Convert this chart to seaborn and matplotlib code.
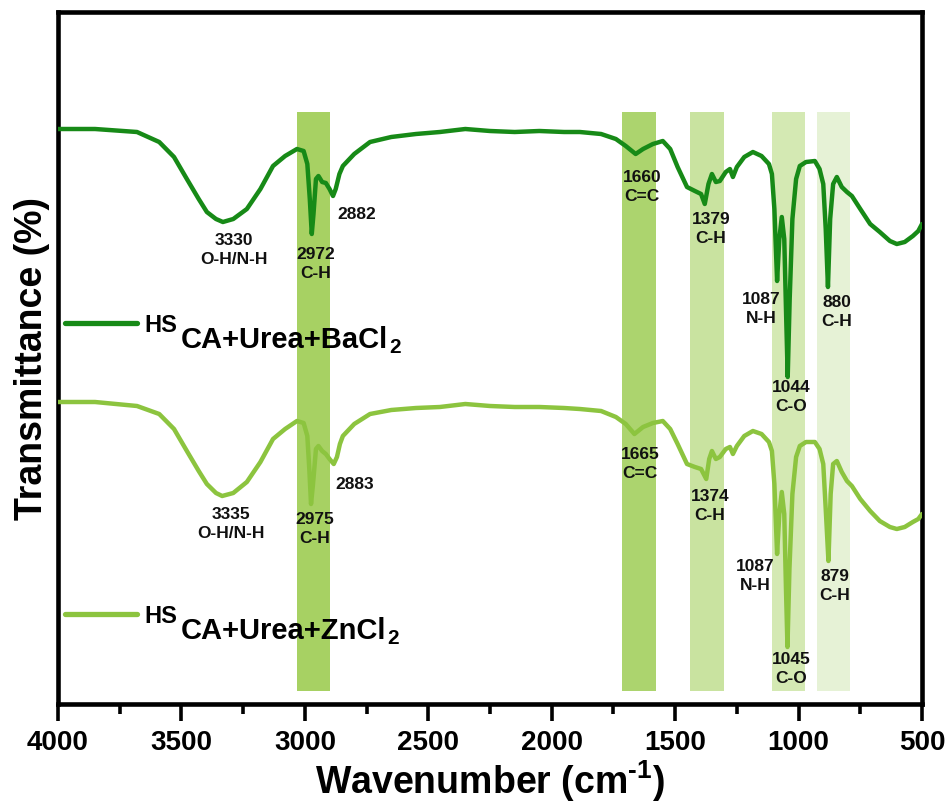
import numpy as np
import pandas as pd
import matplotlib
matplotlib.use("Agg")
import matplotlib.pyplot as plt
import seaborn as sns
from matplotlib.ticker import MultipleLocator

# ---------------- data ----------------
wn_ba = [4000, 3850, 3680, 3590, 3530, 3478, 3430, 3397, 3360, 3332, 3290, 3235, 3180, 3129,
         3080, 3032, 3005, 2990, 2980, 2972, 2965, 2955, 2945, 2930, 2915, 2900, 2886, 2875,
         2860, 2846, 2800, 2736, 2650, 2550, 2453, 2350, 2250, 2150, 2050, 1950, 1886, 1800,
         1740, 1700, 1660, 1630, 1590, 1550, 1520, 1490, 1452, 1420, 1395, 1380, 1365, 1351,
         1335, 1319, 1295, 1278, 1266, 1250, 1220, 1185, 1150, 1120, 1108, 1098, 1087, 1078,
         1068, 1058, 1050, 1044, 1036, 1025, 1010, 995, 970, 934, 915, 900, 890, 881, 872,
         860, 845, 825, 804, 784, 750, 710, 671, 630, 602, 570, 537, 515, 500]
t_ba = [570, 570, 567, 557, 542, 520, 500, 487, 480, 477, 480, 490, 510, 533,
        543, 550, 548, 535, 500, 465, 485, 520, 523, 517, 516, 510, 503, 510,
        525, 533, 545, 557, 562, 565, 567, 570, 568, 567, 568, 567, 567, 565,
        560, 553, 545, 550, 555, 558, 550, 532, 512, 508, 505, 495, 515, 525,
        517, 518, 527, 530, 522, 532, 542, 547, 543, 535, 525, 490, 418, 460,
        482, 460, 380, 322, 400, 480, 520, 533, 537, 538, 530, 515, 470, 412, 480,
        515, 522, 512, 507, 503, 490, 475, 467, 458, 455, 457, 463, 468, 475]

wn_zn = [4000, 3850, 3680, 3590, 3530, 3478, 3430, 3397, 3360, 3335, 3290, 3235, 3180, 3129,
         3080, 3032, 3005, 2990, 2982, 2975, 2967, 2955, 2945, 2930, 2915, 2900, 2883, 2870,
         2858, 2846, 2800, 2736, 2650, 2550, 2453, 2350, 2250, 2150, 2050, 1950, 1886, 1800,
         1740, 1700, 1665, 1630, 1590, 1550, 1520, 1490, 1452, 1420, 1395, 1374, 1362, 1351,
         1335, 1319, 1295, 1278, 1266, 1250, 1220, 1185, 1150, 1120, 1108, 1098, 1087, 1078,
         1068, 1058, 1051, 1045, 1037, 1025, 1010, 995, 970, 934, 915, 900, 890, 879, 870,
         860, 845, 825, 804, 784, 750, 710, 671, 630, 602, 570, 537, 515, 500]
t_zn = [297, 297, 293, 285, 270, 248, 228, 215, 206, 203, 206, 217, 237, 260,
        270, 278, 276, 263, 230, 195, 215, 250, 253, 248, 245, 240, 235, 242,
        255, 263, 275, 285, 289, 291, 292, 295, 293, 292, 292, 291, 290, 288,
        282, 275, 265, 272, 276, 278, 270, 255, 235, 232, 230, 220, 240, 248,
        240, 242, 250, 252, 245, 253, 263, 268, 265, 257, 248, 215, 145, 185,
        207, 185, 110, 52, 130, 205, 242, 253, 257, 257, 250, 235, 190, 138, 205,
        235, 238, 227, 218, 213, 200, 188, 178, 172, 170, 172, 177, 180, 185]

series_names = ["BaCl2", "ZnCl2"]
series_colors = ["#178a17", "#8cc43f"]

# highlighted absorption bands (wavenumber ranges)
band_lo = [2898, 1578, 1303, 974, 792]
band_hi = [3032, 1716, 1440, 1108, 926]
band_colors = ["#a7d163", "#acd46e", "#c9e3a0", "#d4e9b3", "#e6f2d6"]
band_bottom = 8
band_top = 587

# peak annotations
ann_wn_ba = [3287, 2955, 2789, 1635, 1355, 1153, 1031, 845]
ann_y_ba = [467, 453, 493, 530, 488, 408, 320, 405]
ann_txt_ba = ["3330\nO-H/N-H", "2972\nC-H", "2882", "1660\nC=C", "1379\nC-H",
              "1087\nN-H", "1044\nC-O", "880\nC-H"]
ann_wn_zn = [3299, 2959, 2797, 1643, 1359, 1177, 1031, 853]
ann_y_zn = [193, 188, 223, 253, 211, 141, 48, 131]
ann_txt_zn = ["3335\nO-H/N-H", "2975\nC-H", "2883", "1665\nC=C", "1374\nC-H",
              "1087\nN-H", "1045\nC-O", "879\nC-H"]

legend_main = ["CA+Urea+BaCl", "CA+Urea+ZnCl"]

# ---------------- styling ----------------
sns.set_style("ticks")
plt.rcParams["font.family"] = ["Liberation Sans", "DejaVu Sans"]
plt.rcParams["font.weight"] = "bold"
plt.rcParams["axes.labelweight"] = "bold"
plt.rcParams["text.color"] = "black"
plt.rcParams["axes.labelcolor"] = "black"
plt.rcParams["axes.edgecolor"] = "black"
plt.rcParams["xtick.color"] = "black"
plt.rcParams["ytick.color"] = "black"
plt.rcParams["mathtext.fontset"] = "custom"
plt.rcParams["mathtext.rm"] = "Liberation Sans:bold"
plt.rcParams["mathtext.bf"] = "Liberation Sans:bold"
plt.rcParams["mathtext.default"] = "bf"

fig = plt.figure(figsize=(9.5, 8.04), dpi=100)
ax = fig.add_axes([58 / 950, 1 - 705 / 804, 864 / 950, 692 / 804])

for lo, hi, c in zip(band_lo, band_hi, band_colors):
    ax.fill_between([hi, lo], [band_bottom, band_bottom], [band_top, band_top],
                    color=c, lw=0, zorder=1)

df = pd.concat([
    pd.DataFrame({"wn": wn_ba, "T": t_ba, "sample": series_names[0]}),
    pd.DataFrame({"wn": wn_zn, "T": t_zn, "sample": series_names[1]}),
])
sns.lineplot(data=df, x="wn", y="T", hue="sample", palette=series_colors,
             estimator=None, sort=False, lw=3.2, legend=False, ax=ax, zorder=3)

for wns, ys, txts in [(ann_wn_ba, ann_y_ba, ann_txt_ba), (ann_wn_zn, ann_y_zn, ann_txt_zn)]:
    for w, y, t in zip(wns, ys, txts):
        ax.text(w, y, t, ha="center", va="top", fontsize=12.5, fontweight="bold",
                linespacing=1.3, color="#111111", zorder=4)

# legend-like labels
line_y = [0.5506, 0.1301]
text_base = [0.5390, 0.1185]
for i in range(2):
    ax.plot([0.0081, 0.0914], [line_y[i], line_y[i]], transform=ax.transAxes,
            color=series_colors[i], lw=3.8, solid_capstyle="round", zorder=4)
    t1 = ax.text(0.0995, text_base[i], "HS", transform=ax.transAxes, fontsize=17,
                 fontweight="bold", va="baseline", ha="left", zorder=4)
    t2 = ax.annotate(legend_main[i], xy=(1, 0), xycoords=t1, xytext=(3, -12),
                     textcoords="offset points", fontsize=21, fontweight="bold",
                     va="bottom", ha="left", zorder=4)
    ax.annotate("2", xy=(1, 0), xycoords=t2, xytext=(0.5, -2.5),
                textcoords="offset points", fontsize=15, fontweight="bold",
                va="bottom", ha="left", zorder=4)

ax.set_xlim(4000, 500)
ax.set_ylim(-5, 687)
ax.set_yticks([])
ax.xaxis.set_major_locator(MultipleLocator(500))
ax.xaxis.set_minor_locator(MultipleLocator(250))
ax.tick_params(axis="x", which="major", length=12, width=2.6, direction="out",
               labelsize=20, pad=6)
ax.tick_params(axis="x", which="minor", length=7, width=2.6, direction="out")
for lbl in ax.get_xticklabels():
    lbl.set_fontweight("bold")
for s in ax.spines.values():
    s.set_linewidth(3.3)
    s.set_visible(True)

ax.set_xlabel(r"Wavenumber (cm$^{\text{-1}}$)", fontsize=27, fontweight="bold", labelpad=2)
ax.set_ylabel("Transmittance (%)", fontsize=27, fontweight="bold", labelpad=6)

fig.savefig("out.png", dpi=100)
